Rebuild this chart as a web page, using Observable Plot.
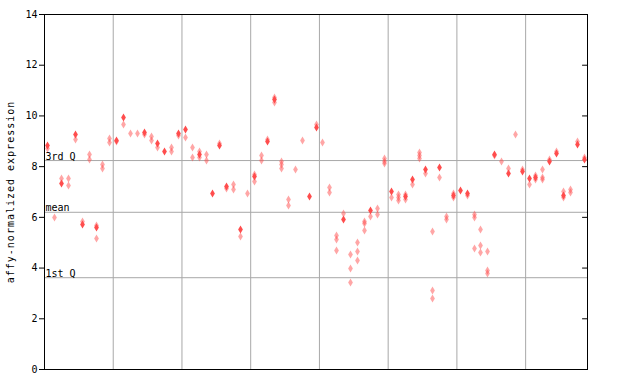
<!DOCTYPE html>
<html>
<head>
<meta charset="utf-8">
<script src="https://cdn.jsdelivr.net/npm/d3@7"></script>
<script src="https://cdn.jsdelivr.net/npm/@observablehq/plot@0.6"></script>
<style>
  html, body { margin: 0; padding: 0; background: #fff; }
  #chart { width: 640px; height: 384px; }
</style>
</head>
<body>
<div id="chart"></div>
<script>
// One entry per sample column (79 samples, left to right)
const filledValues = [
  8.83, null, 7.35, null, 9.25, 5.72, null, 5.61, null, null,
  9.03, 9.95, null, null, 9.36, null, 8.92, 8.61, null, 9.32,
  9.45, null, 8.47, null, 6.95, 8.85, 7.22, null, 5.53, null,
  7.60, null, 9.00, 10.64, null, null, null, null, 6.82, 9.56,
  null, null, null, 5.93, null, null, null, 6.29, null, null,
  7.03, null, 6.83, 7.48, null, 7.90, null, 7.98, null, 6.86,
  7.06, 6.95, null, null, null, 8.48, null, 7.73, null, 7.79,
  7.54, 7.58, null, 8.19, 8.50, 6.87, null, 8.88, 8.27
];
const hatchedValues = [
  [8.70], [6.00], [7.52], [7.52, 7.24], [9.06], [5.83], [8.47, 8.28], [5.69, 5.15], [8.10, 7.94], [9.10, 8.94],
  [8.98], [9.66], [9.30], [9.29], [9.25], [9.20, 9.04], [8.75], [], [8.76, 8.58], [9.22],
  [9.13], [8.74, 8.38], [8.60, 8.38], [8.48, 8.23], [], [8.92], [7.12], [7.28, 7.10], [5.24], [6.93],
  [7.70, 7.43], [8.42, 8.26], [9.08], [10.74, 10.52], [8.20, 8.08, 7.91], [6.69, 6.45], [7.87], [9.02], [], [9.65],
  [8.94], [7.16, 6.98], [5.27, 5.12, 4.68], [6.14], [4.52, 3.97, 3.42], [4.99, 4.64, 4.29], [5.83, 5.74, 5.47], [6.02], [6.34, 6.10], [8.33, 8.22, 8.12],
  [6.77], [6.90, 6.79, 6.68], [6.90, 6.70], [7.31], [8.55, 8.45, 8.31], [7.72], [5.43, 3.10, 2.80], [7.56], [6.05, 5.93], [6.93, 6.80],
  [], [6.88], [6.10, 6.00, 4.76], [5.51, 4.88, 4.60], [4.64, 3.90, 3.80], [8.43], [8.19], [7.91], [9.27], [7.87],
  [7.28], [7.66, 7.48], [7.87, 7.57, 7.48], [8.27], [8.60], [7.03, 6.77], [7.08, 7.00], [8.98], [8.35]
];
const groupBreaks = [9.5, 19.5, 29.5, 39.5, 49.5, 59.5, 69.5];
const refValues = [8.24, 6.2, 3.62];
const refLabels = ["3rd Q", "mean", "1st Q"];
const yTicks = [0, 2, 4, 6, 8, 10, 12, 14];
const yLabel = "affy-normalized expression";

const nCols = filledValues.length;
const filledRows = filledValues.map((v, i) => ({i, v})).filter(d => d.v != null);
const hatchedRows = hatchedValues.flatMap((vs, i) => vs.map(v => ({i, v})));
const refRows = refValues.map((v, k) => ({v, label: refLabels[k]}));

const red = "#ff4d4d";
const grid = "#a8a8a8";

// a short horizontal tick pointing left (into the plot) for the right-hand axis
const tickLeft = {draw(context, l) { context.moveTo(0, 0); context.lineTo(-l, 0); }};

const svg = Plot.plot({
  width: 640,
  height: 384,
  marginLeft: 44,
  marginRight: 53,
  marginTop: 14,
  marginBottom: 15,
  style: {fontFamily: "'DejaVu Sans Mono', monospace", fontSize: "10px", background: "#fff", color: "#000"},
  x: {domain: [-0.5, nCols - 0.5], axis: null},
  y: {domain: [0, 14], ticks: yTicks},
  marks: [
    Plot.ruleX(groupBreaks, {stroke: grid, strokeWidth: 1}),
    Plot.ruleY(refRows, {y: "v", stroke: grid, strokeWidth: 1}),
    Plot.text(refRows, {x: -0.5, y: "v", text: "label", textAnchor: "start", lineAnchor: "bottom", dx: 1, dy: -1, fontSize: 10, letterSpacing: "0.6px", fill: "#000"}),
    Plot.dot(hatchedRows, {x: "i", y: "v", symbol: "diamond", r: 2.5, fill: "url(#chk)", stroke: "none"}),
    Plot.dot(filledRows, {x: "i", y: "v", symbol: "diamond", r: 2.5, fill: red, stroke: "none"}),
    Plot.axisY({anchor: "left", ticks: yTicks, tickSize: 5, tickPadding: 2, label: yLabel, labelArrow: "none", labelAnchor: "center", labelOffset: 38, fontSize: 10}),
    Plot.vector(yTicks, {x: nCols - 0.5, y: d => d, length: 5, anchor: "start", shape: tickLeft, stroke: "#000", strokeWidth: 1}),
    Plot.frame({stroke: "#000"})
  ]
});

// checkerboard pattern for the hatched diamonds
const ns = "http://www.w3.org/2000/svg";
const defs = document.createElementNS(ns, "defs");
const pat = document.createElementNS(ns, "pattern");
pat.setAttribute("id", "chk");
pat.setAttribute("width", "2");
pat.setAttribute("height", "2");
pat.setAttribute("patternUnits", "userSpaceOnUse");
[[0, 0], [1, 1]].forEach(([x, y]) => {
  const r = document.createElementNS(ns, "rect");
  r.setAttribute("x", x); r.setAttribute("y", y);
  r.setAttribute("width", 1); r.setAttribute("height", 1);
  r.setAttribute("fill", red);
  pat.appendChild(r);
});
defs.appendChild(pat);
svg.insertBefore(defs, svg.firstChild);

// snap dots to the pixel grid so the checkerboard stays crisp
svg.querySelectorAll('g[aria-label="dot"] path').forEach(p => {
  const t = p.getAttribute("transform");
  const m = t && t.match(/translate\(([-\d.e]+),\s*([-\d.e]+)\)/);
  if (m) p.setAttribute("transform", `translate(${Math.round(+m[1])},${Math.round(+m[2])})`);
});
// y-axis label: strip any arrow, add letter spacing
svg.querySelectorAll('g[aria-label="y-axis label"] text').forEach(t => {
  t.textContent = yLabel;
  t.setAttribute("letter-spacing", "1px");
});

document.getElementById("chart").appendChild(svg);
</script>
</body>
</html>
